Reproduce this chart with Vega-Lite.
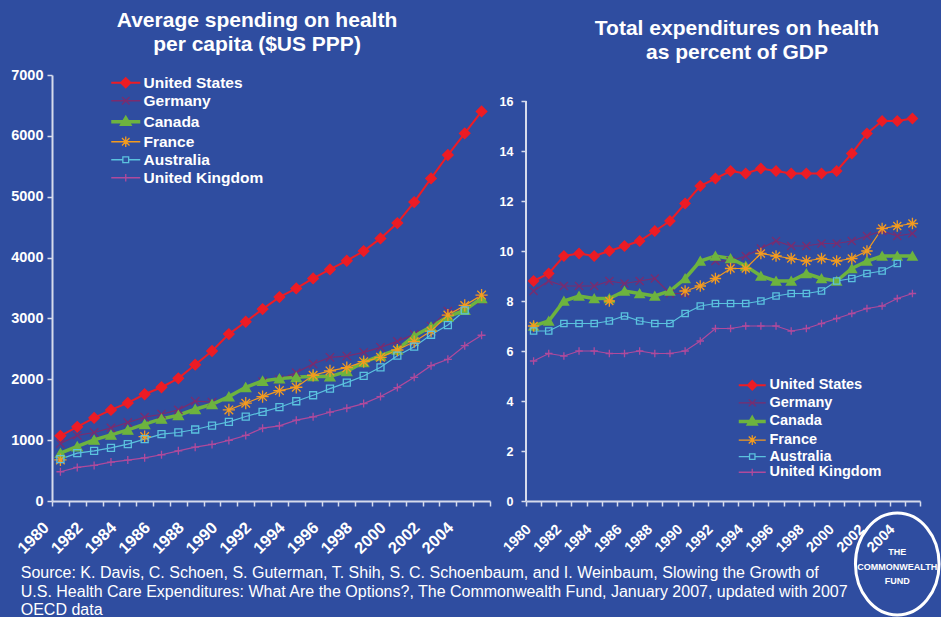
{
 "$schema": "https://vega.github.io/schema/vega-lite/v6.json",
 "background": "#2F4DA0",
 "padding": {"left": 10, "top": 10, "right": 0, "bottom": 0},
 "config": {
  "view": {"stroke": null},
  "font": "Liberation Sans",
  "axis": {"labelColor": "white", "labelFont": "Liberation Sans", "labelFontWeight": "bold", "domainColor": "#D6DBEC", "tickColor": "#D6DBEC", "domainWidth": 2, "tickWidth": 1.5, "tickSize": 5, "grid": false, "title": null},
  "legend": {"labelColor": "white", "labelFont": "Liberation Sans", "labelFontWeight": "bold", "title": null},
  "title": {"color": "white", "font": "Liberation Sans", "fontWeight": "bold"}
 },
 "title": {"text": ["Source: K. Davis, C. Schoen, S. Guterman, T. Shih, S. C. Schoenbaum, and I. Weinbaum, Slowing the Growth of", "U.S. Health Care Expenditures: What Are the Options?, The Commonwealth Fund, January 2007, updated with 2007", "OECD data"], "orient": "bottom", "anchor": "start", "fontSize": 16, "fontWeight": "normal", "lineHeight": 18.5, "offset": -56, "dx": 10, "color": "white"},
 "spacing": 8,
 "resolve": {"scale": {"x": "independent", "y": "independent", "color": "independent", "shape": "independent", "size": "independent"}, "legend": {"color": "independent", "shape": "independent", "size": "independent"}},
 "datasets": {
  "spending": [
   {"country":"United States","year":1980,"value":1071},{"country":"United States","year":1981,"value":1219},{"country":"United States","year":1982,"value":1366},{"country":"United States","year":1983,"value":1497},{"country":"United States","year":1984,"value":1612},{"country":"United States","year":1985,"value":1754},{"country":"United States","year":1986,"value":1869},{"country":"United States","year":1987,"value":2016},{"country":"United States","year":1988,"value":2240},{"country":"United States","year":1989,"value":2465},{"country":"United States","year":1990,"value":2743},{"country":"United States","year":1991,"value":2945},{"country":"United States","year":1992,"value":3153},{"country":"United States","year":1993,"value":3351},{"country":"United States","year":1994,"value":3493},{"country":"United States","year":1995,"value":3657},{"country":"United States","year":1996,"value":3805},{"country":"United States","year":1997,"value":3948},{"country":"United States","year":1998,"value":4107},{"country":"United States","year":1999,"value":4315},{"country":"United States","year":2000,"value":4567},{"country":"United States","year":2001,"value":4912},{"country":"United States","year":2002,"value":5301},{"country":"United States","year":2003,"value":5685},{"country":"United States","year":2004,"value":6041},{"country":"United States","year":2005,"value":6401},
   {"country":"Germany","year":1980,"value":945},{"country":"Germany","year":1981,"value":1078},{"country":"Germany","year":1982,"value":1126},{"country":"Germany","year":1983,"value":1202},{"country":"Germany","year":1984,"value":1290},{"country":"Germany","year":1985,"value":1377},{"country":"Germany","year":1986,"value":1426},{"country":"Germany","year":1987,"value":1497},{"country":"Germany","year":1988,"value":1640},{"country":"Germany","year":1989,"value":1625},{"country":"Germany","year":1990,"value":null},{"country":"Germany","year":1991,"value":null},{"country":"Germany","year":1992,"value":1960},{"country":"Germany","year":1993,"value":1995},{"country":"Germany","year":1994,"value":2109},{"country":"Germany","year":1995,"value":2251},{"country":"Germany","year":1996,"value":2361},{"country":"Germany","year":1997,"value":2382},{"country":"Germany","year":1998,"value":2443},{"country":"Germany","year":1999,"value":2525},{"country":"Germany","year":2000,"value":2623},{"country":"Germany","year":2001,"value":2738},{"country":"Germany","year":2002,"value":2874},{"country":"Germany","year":2003,"value":3120},{"country":"Germany","year":2004,"value":3140},{"country":"Germany","year":2005,"value":3300},
   {"country":"Canada","year":1980,"value":787},{"country":"Canada","year":1981,"value":896},{"country":"Canada","year":1982,"value":1005},{"country":"Canada","year":1983,"value":1087},{"country":"Canada","year":1984,"value":1169},{"country":"Canada","year":1985,"value":1262},{"country":"Canada","year":1986,"value":1350},{"country":"Canada","year":1987,"value":1410},{"country":"Canada","year":1988,"value":1508},{"country":"Canada","year":1989,"value":1590},{"country":"Canada","year":1990,"value":1716},{"country":"Canada","year":1991,"value":1869},{"country":"Canada","year":1992,"value":1973},{"country":"Canada","year":1993,"value":2011},{"country":"Canada","year":1994,"value":2035},{"country":"Canada","year":1995,"value":2050},{"country":"Canada","year":1996,"value":2045},{"country":"Canada","year":1997,"value":2131},{"country":"Canada","year":1998,"value":2279},{"country":"Canada","year":1999,"value":2388},{"country":"Canada","year":2000,"value":2486},{"country":"Canada","year":2001,"value":2710},{"country":"Canada","year":2002,"value":2863},{"country":"Canada","year":2003,"value":3027},{"country":"Canada","year":2004,"value":3137},{"country":"Canada","year":2005,"value":3333},
   {"country":"France","year":1980,"value":675},{"country":"France","year":1981,"value":null},{"country":"France","year":1982,"value":null},{"country":"France","year":1983,"value":null},{"country":"France","year":1984,"value":null},{"country":"France","year":1985,"value":1058},{"country":"France","year":1986,"value":null},{"country":"France","year":1987,"value":null},{"country":"France","year":1988,"value":null},{"country":"France","year":1989,"value":null},{"country":"France","year":1990,"value":1497},{"country":"France","year":1991,"value":1607},{"country":"France","year":1992,"value":1716},{"country":"France","year":1993,"value":1814},{"country":"France","year":1994,"value":1869},{"country":"France","year":1995,"value":2066},{"country":"France","year":1996,"value":2137},{"country":"France","year":1997,"value":2191},{"country":"France","year":1998,"value":2290},{"country":"France","year":1999,"value":2361},{"country":"France","year":2000,"value":2481},{"country":"France","year":2001,"value":2617},{"country":"France","year":2002,"value":2792},{"country":"France","year":2003,"value":3055},{"country":"France","year":2004,"value":3213},{"country":"France","year":2005,"value":3383},
   {"country":"Australia","year":1980,"value":689},{"country":"Australia","year":1981,"value":787},{"country":"Australia","year":1982,"value":825},{"country":"Australia","year":1983,"value":874},{"country":"Australia","year":1984,"value":934},{"country":"Australia","year":1985,"value":1016},{"country":"Australia","year":1986,"value":1098},{"country":"Australia","year":1987,"value":1126},{"country":"Australia","year":1988,"value":1175},{"country":"Australia","year":1989,"value":1240},{"country":"Australia","year":1990,"value":1301},{"country":"Australia","year":1991,"value":1388},{"country":"Australia","year":1992,"value":1464},{"country":"Australia","year":1993,"value":1541},{"country":"Australia","year":1994,"value":1639},{"country":"Australia","year":1995,"value":1738},{"country":"Australia","year":1996,"value":1847},{"country":"Australia","year":1997,"value":1945},{"country":"Australia","year":1998,"value":2055},{"country":"Australia","year":1999,"value":2197},{"country":"Australia","year":2000,"value":2388},{"country":"Australia","year":2001,"value":2536},{"country":"Australia","year":2002,"value":2732},{"country":"Australia","year":2003,"value":2891},{"country":"Australia","year":2004,"value":3131},
   {"country":"United Kingdom","year":1980,"value":481},{"country":"United Kingdom","year":1981,"value":552},{"country":"United Kingdom","year":1982,"value":585},{"country":"United Kingdom","year":1983,"value":639},{"country":"United Kingdom","year":1984,"value":672},{"country":"United Kingdom","year":1985,"value":710},{"country":"United Kingdom","year":1986,"value":760},{"country":"United Kingdom","year":1987,"value":825},{"country":"United Kingdom","year":1988,"value":885},{"country":"United Kingdom","year":1989,"value":929},{"country":"United Kingdom","year":1990,"value":995},{"country":"United Kingdom","year":1991,"value":1077},{"country":"United Kingdom","year":1992,"value":1197},{"country":"United Kingdom","year":1993,"value":1235},{"country":"United Kingdom","year":1994,"value":1328},{"country":"United Kingdom","year":1995,"value":1383},{"country":"United Kingdom","year":1996,"value":1459},{"country":"United Kingdom","year":1997,"value":1525},{"country":"United Kingdom","year":1998,"value":1601},{"country":"United Kingdom","year":1999,"value":1716},{"country":"United Kingdom","year":2000,"value":1863},{"country":"United Kingdom","year":2001,"value":2033},{"country":"United Kingdom","year":2002,"value":2224},{"country":"United Kingdom","year":2003,"value":2328},{"country":"United Kingdom","year":2004,"value":2552},{"country":"United Kingdom","year":2005,"value":2724}
  ],
  "gdp": [
   {"country":"United States","year":1980,"value":8.8},{"country":"United States","year":1981,"value":9.1},{"country":"United States","year":1982,"value":9.8},{"country":"United States","year":1983,"value":9.9},{"country":"United States","year":1984,"value":9.8},{"country":"United States","year":1985,"value":10.0},{"country":"United States","year":1986,"value":10.2},{"country":"United States","year":1987,"value":10.4},{"country":"United States","year":1988,"value":10.8},{"country":"United States","year":1989,"value":11.2},{"country":"United States","year":1990,"value":11.9},{"country":"United States","year":1991,"value":12.6},{"country":"United States","year":1992,"value":12.9},{"country":"United States","year":1993,"value":13.2},{"country":"United States","year":1994,"value":13.1},{"country":"United States","year":1995,"value":13.3},{"country":"United States","year":1996,"value":13.2},{"country":"United States","year":1997,"value":13.1},{"country":"United States","year":1998,"value":13.1},{"country":"United States","year":1999,"value":13.1},{"country":"United States","year":2000,"value":13.2},{"country":"United States","year":2001,"value":13.9},{"country":"United States","year":2002,"value":14.7},{"country":"United States","year":2003,"value":15.2},{"country":"United States","year":2004,"value":15.2},{"country":"United States","year":2005,"value":15.3},
   {"country":"Germany","year":1980,"value":8.4},{"country":"Germany","year":1981,"value":8.8},{"country":"Germany","year":1982,"value":8.6},{"country":"Germany","year":1983,"value":8.6},{"country":"Germany","year":1984,"value":8.6},{"country":"Germany","year":1985,"value":8.8},{"country":"Germany","year":1986,"value":8.7},{"country":"Germany","year":1987,"value":8.8},{"country":"Germany","year":1988,"value":8.9},{"country":"Germany","year":1989,"value":8.3},{"country":"Germany","year":1990,"value":8.3},{"country":"Germany","year":1991,"value":null},{"country":"Germany","year":1992,"value":9.6},{"country":"Germany","year":1993,"value":9.6},{"country":"Germany","year":1994,"value":9.8},{"country":"Germany","year":1995,"value":10.1},{"country":"Germany","year":1996,"value":10.4},{"country":"Germany","year":1997,"value":10.2},{"country":"Germany","year":1998,"value":10.2},{"country":"Germany","year":1999,"value":10.3},{"country":"Germany","year":2000,"value":10.3},{"country":"Germany","year":2001,"value":10.4},{"country":"Germany","year":2002,"value":10.6},{"country":"Germany","year":2003,"value":10.8},{"country":"Germany","year":2004,"value":10.6},{"country":"Germany","year":2005,"value":10.7},
   {"country":"Canada","year":1980,"value":7.0},{"country":"Canada","year":1981,"value":7.2},{"country":"Canada","year":1982,"value":8.0},{"country":"Canada","year":1983,"value":8.2},{"country":"Canada","year":1984,"value":8.1},{"country":"Canada","year":1985,"value":8.1},{"country":"Canada","year":1986,"value":8.4},{"country":"Canada","year":1987,"value":8.3},{"country":"Canada","year":1988,"value":8.2},{"country":"Canada","year":1989,"value":8.4},{"country":"Canada","year":1990,"value":8.9},{"country":"Canada","year":1991,"value":9.6},{"country":"Canada","year":1992,"value":9.8},{"country":"Canada","year":1993,"value":9.7},{"country":"Canada","year":1994,"value":9.4},{"country":"Canada","year":1995,"value":9.0},{"country":"Canada","year":1996,"value":8.8},{"country":"Canada","year":1997,"value":8.8},{"country":"Canada","year":1998,"value":9.1},{"country":"Canada","year":1999,"value":8.9},{"country":"Canada","year":2000,"value":8.8},{"country":"Canada","year":2001,"value":9.3},{"country":"Canada","year":2002,"value":9.6},{"country":"Canada","year":2003,"value":9.8},{"country":"Canada","year":2004,"value":9.8},{"country":"Canada","year":2005,"value":9.8},
   {"country":"France","year":1980,"value":7.0},{"country":"France","year":1981,"value":null},{"country":"France","year":1982,"value":null},{"country":"France","year":1983,"value":null},{"country":"France","year":1984,"value":null},{"country":"France","year":1985,"value":8.0},{"country":"France","year":1986,"value":null},{"country":"France","year":1987,"value":null},{"country":"France","year":1988,"value":null},{"country":"France","year":1989,"value":null},{"country":"France","year":1990,"value":8.4},{"country":"France","year":1991,"value":8.6},{"country":"France","year":1992,"value":8.9},{"country":"France","year":1993,"value":9.3},{"country":"France","year":1994,"value":9.3},{"country":"France","year":1995,"value":9.9},{"country":"France","year":1996,"value":9.8},{"country":"France","year":1997,"value":9.7},{"country":"France","year":1998,"value":9.6},{"country":"France","year":1999,"value":9.7},{"country":"France","year":2000,"value":9.6},{"country":"France","year":2001,"value":9.7},{"country":"France","year":2002,"value":10.0},{"country":"France","year":2003,"value":10.9},{"country":"France","year":2004,"value":11.0},{"country":"France","year":2005,"value":11.1},
   {"country":"Australia","year":1980,"value":6.8},{"country":"Australia","year":1981,"value":6.8},{"country":"Australia","year":1982,"value":7.1},{"country":"Australia","year":1983,"value":7.1},{"country":"Australia","year":1984,"value":7.1},{"country":"Australia","year":1985,"value":7.2},{"country":"Australia","year":1986,"value":7.4},{"country":"Australia","year":1987,"value":7.2},{"country":"Australia","year":1988,"value":7.1},{"country":"Australia","year":1989,"value":7.1},{"country":"Australia","year":1990,"value":7.5},{"country":"Australia","year":1991,"value":7.8},{"country":"Australia","year":1992,"value":7.9},{"country":"Australia","year":1993,"value":7.9},{"country":"Australia","year":1994,"value":7.9},{"country":"Australia","year":1995,"value":8.0},{"country":"Australia","year":1996,"value":8.2},{"country":"Australia","year":1997,"value":8.3},{"country":"Australia","year":1998,"value":8.3},{"country":"Australia","year":1999,"value":8.4},{"country":"Australia","year":2000,"value":8.8},{"country":"Australia","year":2001,"value":8.9},{"country":"Australia","year":2002,"value":9.1},{"country":"Australia","year":2003,"value":9.2},{"country":"Australia","year":2004,"value":9.5},
   {"country":"United Kingdom","year":1980,"value":5.6},{"country":"United Kingdom","year":1981,"value":5.9},{"country":"United Kingdom","year":1982,"value":5.8},{"country":"United Kingdom","year":1983,"value":6.0},{"country":"United Kingdom","year":1984,"value":6.0},{"country":"United Kingdom","year":1985,"value":5.9},{"country":"United Kingdom","year":1986,"value":5.9},{"country":"United Kingdom","year":1987,"value":6.0},{"country":"United Kingdom","year":1988,"value":5.9},{"country":"United Kingdom","year":1989,"value":5.9},{"country":"United Kingdom","year":1990,"value":6.0},{"country":"United Kingdom","year":1991,"value":6.4},{"country":"United Kingdom","year":1992,"value":6.9},{"country":"United Kingdom","year":1993,"value":6.9},{"country":"United Kingdom","year":1994,"value":7.0},{"country":"United Kingdom","year":1995,"value":7.0},{"country":"United Kingdom","year":1996,"value":7.0},{"country":"United Kingdom","year":1997,"value":6.8},{"country":"United Kingdom","year":1998,"value":6.9},{"country":"United Kingdom","year":1999,"value":7.1},{"country":"United Kingdom","year":2000,"value":7.3},{"country":"United Kingdom","year":2001,"value":7.5},{"country":"United Kingdom","year":2002,"value":7.7},{"country":"United Kingdom","year":2003,"value":7.8},{"country":"United Kingdom","year":2004,"value":8.1},{"country":"United Kingdom","year":2005,"value":8.3}
  ]
 },
 "hconcat": [
  {
   "width": 438, "height": 426,
   "title": {"text": ["Average spending on health", "per capita ($US PPP)"], "fontSize": 21, "lineHeight": 24, "dx": -14, "offset": 12, "anchor": "middle"},
   "data": {"name": "spending"},
   "layer": [
    {
     "mark": {"type": "line", "invalid": "break-paths-show-domains"},
     "encoding": {
      "x": {"field": "year", "type": "ordinal", "scale": {"paddingInner": 0, "paddingOuter": 0}, "axis": {"labelAngle": -45, "labelFontSize": 16.5, "labelOverlap": false, "labelExpr": "datum.value % 2 == 0 ? datum.label : ''", "tickBand": "extent", "labelPadding": 13, "labelOffset": -20}},
      "y": {"field": "value", "type": "quantitative", "scale": {"domain": [0, 7000], "nice": false}, "axis": {"values": [0,1000,2000,3000,4000,5000,6000,7000], "format": "d", "labelFontSize": 14.5, "labelPadding": 4}},
      "color": {"field": "country", "type": "nominal", "sort": null, "scale": {"domain": ["United States","Germany","Canada","France","Australia","United Kingdom"], "range": ["#ED1C24","#7B2C6E","#6DB33F","#F39B1F","#5BC2DE","#B04A9C"]},
       "legend": {"orient": "none", "legendX": 66, "legendY": 0, "labelFontSize": 15.5, "rowPadding": 1, "symbolSize": 841, "labelOffset": 10,
        "encode": {"symbols": {"update": {
         "shape": {"signal": "datum.value==='United States' ? 'M-1,0L1,0M0,-0.32L0.32,0L0,0.32L-0.32,0Z' : datum.value==='Germany' ? 'M-1,0L1,0M-0.26,-0.26L0.26,0.26M-0.26,0.26L0.26,-0.26' : datum.value==='Canada' ? 'M-1,0L1,0M0,-0.25L0.25,0.18L-0.25,0.18Z' : datum.value==='France' ? 'M-1,0L1,0M-0.36,0L0.36,0M0,-0.36L0,0.36M-0.26,-0.26L0.26,0.26M-0.26,0.26L0.26,-0.26' : datum.value==='Australia' ? 'M-1,0L-0.2,0M0.2,0L1,0M-0.2,-0.2L0.2,-0.2L0.2,0.2L-0.2,0.2Z' : 'M-1,0L1,0M0,-0.26L0,0.26'"},
         "fill": {"signal": "datum.value==='United States' ? '#ED1C24' : datum.value==='Canada' ? '#6DB33F' : 'transparent'"},
         "strokeWidth": {"signal": "datum.value==='Canada' ? 3.5 : datum.value==='United States' ? 2 : 1.3"},
         "size": {"value": 841}
        }}}}},
      "strokeWidth": {"condition": [{"test": "datum.country==='Canada'", "value": 3.5}, {"test": "datum.country==='United States'", "value": 2}], "value": 1.2}
     }
    },
    {
     "mark": {"type": "point", "filled": false, "strokeWidth": 1.3, "opacity": 1},
     "encoding": {
      "x": {"field": "year", "type": "ordinal"},
      "y": {"field": "value", "type": "quantitative"},
      "color": {"field": "country", "type": "nominal", "sort": null, "legend": null},
      "shape": {"condition": [{"test": "datum.country==='United States'", "value": "diamond"}, {"test": "datum.country==='Germany'", "value": "M-1,-1L1,1M-1,1L1,-1"}, {"test": "datum.country==='Canada'", "value": "triangle-up"}, {"test": "datum.country==='France'", "value": "M-1,0L1,0M0,-1L0,1M-0.7,-0.7L0.7,0.7M-0.7,0.7L0.7,-0.7"}, {"test": "datum.country==='Australia'", "value": "square"}], "value": "M-1,0L1,0M0,-1L0,1"},
      "size": {"condition": [{"test": "datum.country==='United States'", "value": 110}, {"test": "datum.country==='Germany'", "value": 70}, {"test": "datum.country==='Canada'", "value": 100}, {"test": "datum.country==='France'", "value": 150}, {"test": "datum.country==='Australia'", "value": 49}], "value": 64},
      "fill": {"condition": [{"test": "datum.country==='United States'", "value": "#ED1C24"}, {"test": "datum.country==='Canada'", "value": "#6DB33F"}], "value": "transparent"}
     }
    }
   ]
  },
  {
   "width": 394, "height": 426,
   "title": {"text": ["Total expenditures on health", "as percent of GDP"], "fontSize": 21, "lineHeight": 24, "dx": 14, "offset": 12, "anchor": "middle"},
   "data": {"name": "gdp"},
   "layer": [
    {
     "mark": {"type": "line", "invalid": "break-paths-show-domains"},
     "encoding": {
      "x": {"field": "year", "type": "ordinal", "scale": {"paddingInner": 0, "paddingOuter": 0}, "axis": {"labelAngle": -45, "labelFontSize": 14.5, "labelOverlap": false, "labelExpr": "datum.value % 2 == 0 ? datum.label : ''", "tickBand": "extent", "labelPadding": 16, "labelOffset": -10}},
      "y": {"field": "value", "type": "quantitative", "scale": {"domain": [0, 17.04], "nice": false}, "axis": {"values": [0,2,4,6,8,10,12,14,16], "domain": false, "labelFontSize": 12.5, "labelPadding": 8}},
      "color": {"field": "country", "type": "nominal", "sort": null, "scale": {"domain": ["United States","Germany","Canada","France","Australia","United Kingdom"], "range": ["#ED1C24","#7B2C6E","#6DB33F","#F39B1F","#5BC2DE","#B04A9C"]},
       "legend": {"orient": "none", "legendX": 219, "legendY": 303, "labelFontSize": 14.5, "rowPadding": 0.6, "symbolSize": 729, "labelOffset": 10,
        "encode": {"symbols": {"update": {
         "shape": {"signal": "datum.value==='United States' ? 'M-1,0L1,0M0,-0.32L0.32,0L0,0.32L-0.32,0Z' : datum.value==='Germany' ? 'M-1,0L1,0M-0.26,-0.26L0.26,0.26M-0.26,0.26L0.26,-0.26' : datum.value==='Canada' ? 'M-1,0L1,0M0,-0.25L0.25,0.18L-0.25,0.18Z' : datum.value==='France' ? 'M-1,0L1,0M-0.36,0L0.36,0M0,-0.36L0,0.36M-0.26,-0.26L0.26,0.26M-0.26,0.26L0.26,-0.26' : datum.value==='Australia' ? 'M-1,0L-0.2,0M0.2,0L1,0M-0.2,-0.2L0.2,-0.2L0.2,0.2L-0.2,0.2Z' : 'M-1,0L1,0M0,-0.26L0,0.26'"},
         "fill": {"signal": "datum.value==='United States' ? '#ED1C24' : datum.value==='Canada' ? '#6DB33F' : 'transparent'"},
         "strokeWidth": {"signal": "datum.value==='Canada' ? 3.5 : datum.value==='United States' ? 2 : 1.3"},
         "size": {"value": 729}
        }}}}},
      "strokeWidth": {"condition": [{"test": "datum.country==='Canada'", "value": 3.5}, {"test": "datum.country==='United States'", "value": 2}], "value": 1.2}
     }
    },
    {
     "mark": {"type": "point", "filled": false, "strokeWidth": 1.3, "opacity": 1},
     "encoding": {
      "x": {"field": "year", "type": "ordinal"},
      "y": {"field": "value", "type": "quantitative"},
      "color": {"field": "country", "type": "nominal", "sort": null, "legend": null},
      "shape": {"condition": [{"test": "datum.country==='United States'", "value": "diamond"}, {"test": "datum.country==='Germany'", "value": "M-1,-1L1,1M-1,1L1,-1"}, {"test": "datum.country==='Canada'", "value": "triangle-up"}, {"test": "datum.country==='France'", "value": "M-1,0L1,0M0,-1L0,1M-0.7,-0.7L0.7,0.7M-0.7,0.7L0.7,-0.7"}, {"test": "datum.country==='Australia'", "value": "square"}], "value": "M-1,0L1,0M0,-1L0,1"},
      "size": {"condition": [{"test": "datum.country==='United States'", "value": 100}, {"test": "datum.country==='Germany'", "value": 64}, {"test": "datum.country==='Canada'", "value": 90}, {"test": "datum.country==='France'", "value": 130}, {"test": "datum.country==='Australia'", "value": 40}], "value": 56},
      "fill": {"condition": [{"test": "datum.country==='United States'", "value": "#ED1C24"}, {"test": "datum.country==='Canada'", "value": "#6DB33F"}], "value": "transparent"}
     }
    },
    {
     "data": {"values": [{}]},
     "mark": {"type": "rule", "color": "#D6DBEC", "strokeWidth": 2},
     "encoding": {"x": {"datum": 1980, "type": "ordinal", "bandPosition": 0}, "y": {"datum": 0, "type": "quantitative"}, "y2": {"datum": 16}}
    },
    {
     "data": {"values": [{}]},
     "mark": {"type": "point", "filled": false, "stroke": "white", "strokeWidth": 3, "opacity": 1, "shape": "M0,-1C0.453,-1 0.82,-0.5523 0.82,0C0.82,0.5523 0.453,1 0,1C-0.453,1 -0.82,0.5523 -0.82,0C-0.82,-0.5523 -0.453,-1 0,-1Z", "size": 10404},
     "encoding": {"x": {"datum": 2004, "type": "ordinal"}, "y": {"datum": -2.52, "type": "quantitative"}}
    },
    {
     "data": {"values": [{}]},
     "mark": {"type": "text", "text": ["THE", "COMMONWEALTH", "FUND"], "font": "Liberation Sans", "fontWeight": "bold", "fontSize": 9, "color": "white", "lineHeight": 14.5, "baseline": "middle", "align": "center"},
     "encoding": {"x": {"datum": 2004, "type": "ordinal"}, "y": {"datum": -2.04, "type": "quantitative"}}
    }
   ]
  }
 ]
}
